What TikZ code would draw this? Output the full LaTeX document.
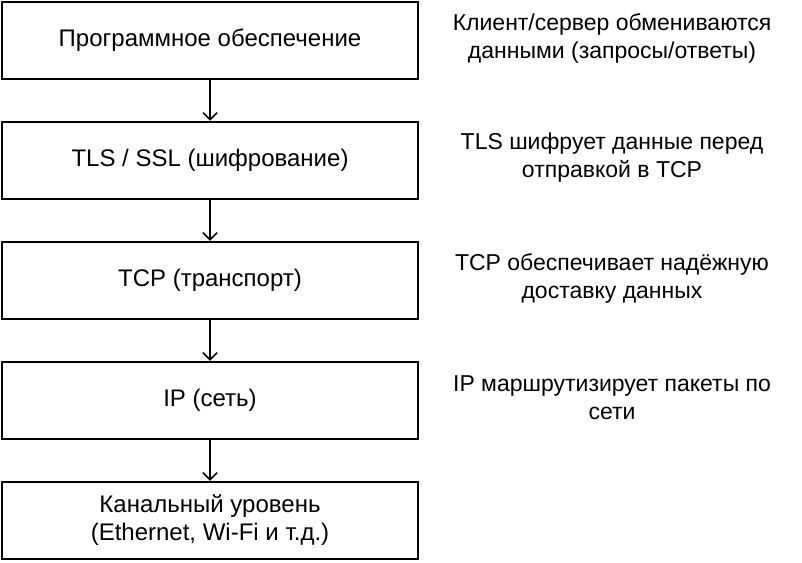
\documentclass[tikz,border=0pt]{standalone}
\usepackage{fontspec}
\setmainfont{Liberation Sans}
\usetikzlibrary{positioning, arrows.meta}
\tikzstyle{layerbox} = [rectangle,
minimum width=416pt,
minimum height=77pt,
align=center,
draw=black,
line width=2.5pt,
fill=white,
font=\fontsize{24}{28}\selectfont]
\tikzstyle{note} = [align=center, font=\fontsize{23}{28}\selectfont]
\tikzstyle{arrow} = [line width=1.5pt,-{Straight Barb[length=7pt,width=14pt]}]

\begin{document}
\begin{tikzpicture}[x=1pt, y=-1pt, node distance=40.5pt]
    \useasboundingbox (0,0) rectangle (802,562);

    \node (app) [layerbox] at (210,40.5) {Программное обеспечение};
    \node (tls) [layerbox, below=of app] {TLS / SSL (шифрование)};
    \node (tcp) [layerbox, below=of tls] {TCP (транспорт)};
    \node (ip) [layerbox, below=of tcp] {IP (сеть)};
    \node (link) [layerbox, below=of ip] {Канальный уровень\\(Ethernet, Wi-Fi и т.д.)};

    % layer arrows
    \draw [arrow] (app) -- (tls);
    \draw [arrow] (tls) -- (tcp);
    \draw [arrow] (tcp) -- (ip);
    \draw [arrow] (ip) -- (link);

    % notes
    \node (appnote) [note] at (612,38) {Клиент/сервер обмениваются\\данными (запросы/ответы)};
    \node (tlsnote) [note] at (612,158) {TLS шифрует данные перед\\отправкой в TCP};
    \node (tcpnote) [note] at (612,278) {TCP обеспечивает надёжную\\доставку данных};
    \node (ipnote) [note] at (612,398) {IP маршрутизирует пакеты по\\сети};
  \end{tikzpicture}
\end{document}
